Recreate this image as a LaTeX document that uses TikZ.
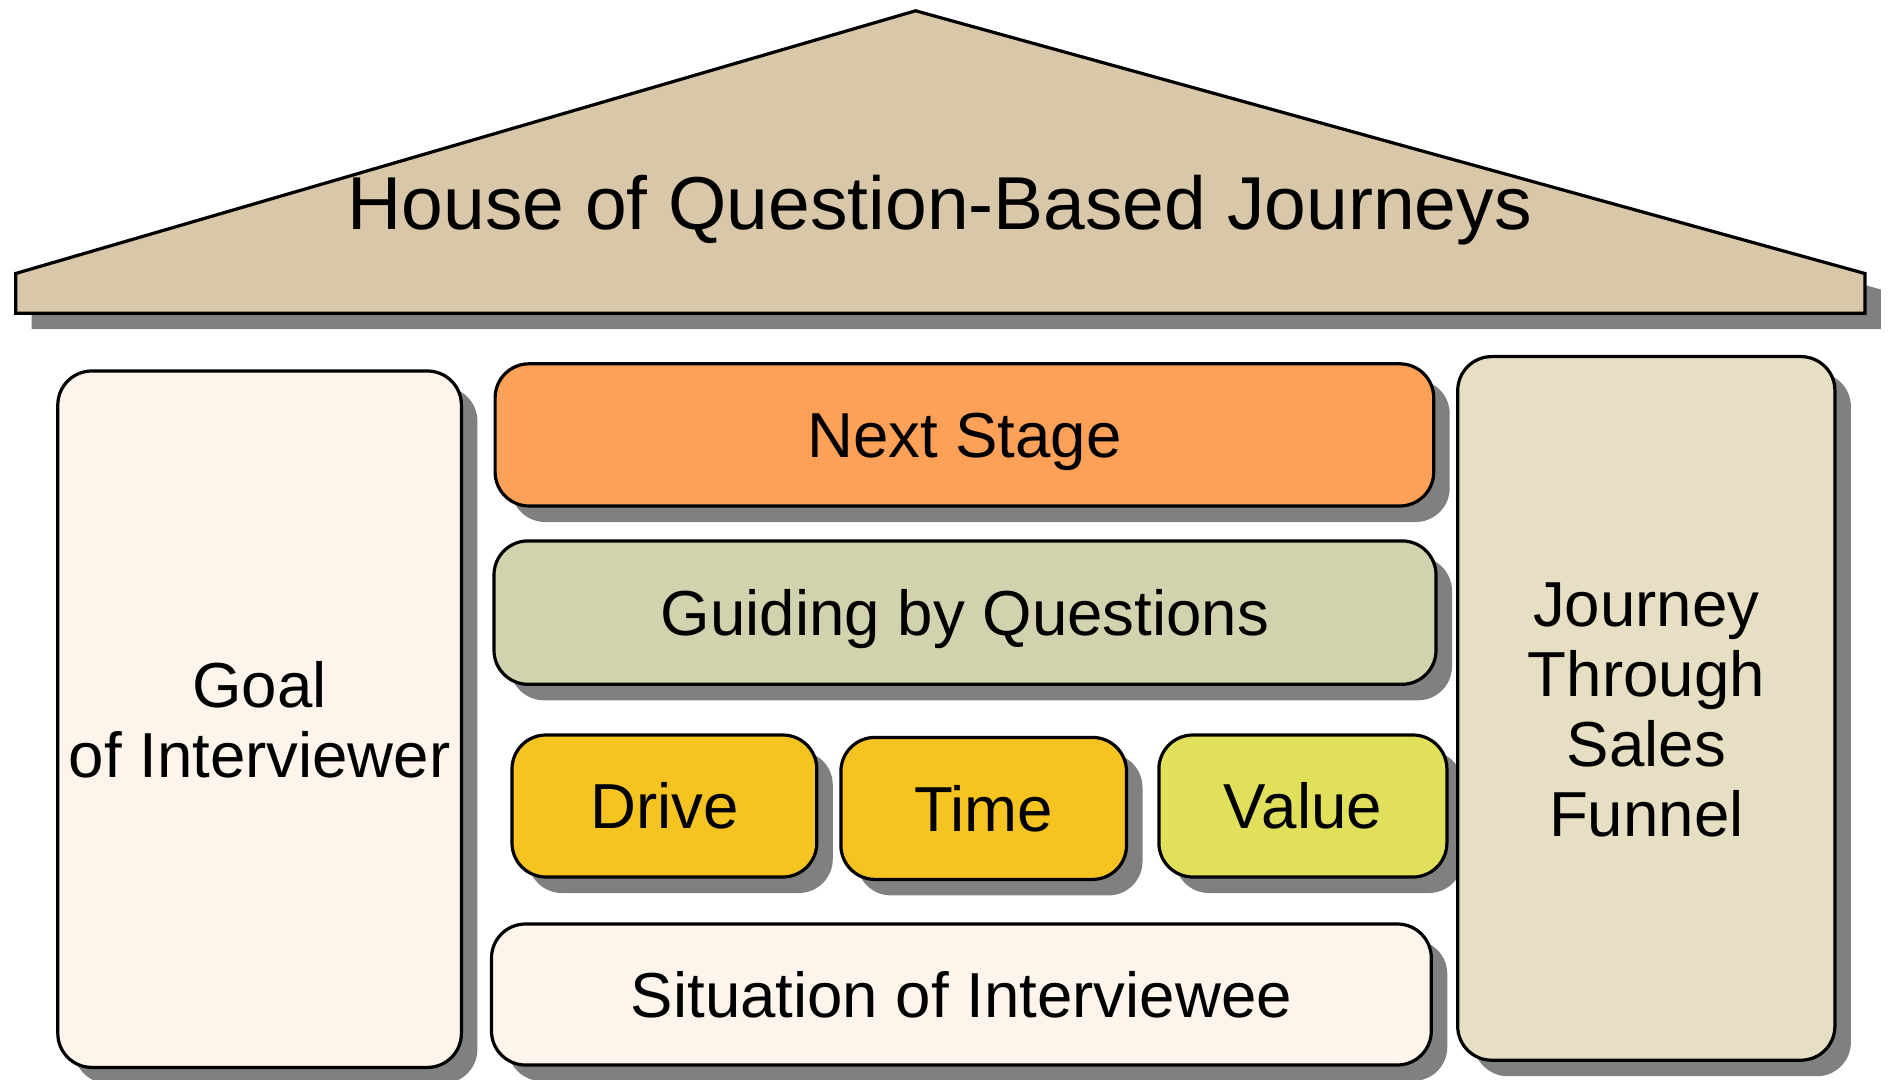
\documentclass[tikz,border=0pt]{standalone}
\usepackage{fontspec}
\setmainfont{Liberation Sans}
\usepackage{tikz}
\usetikzlibrary{shadows}
\definecolor{roofcol}{RGB}{216,199,169}
\definecolor{nextcol}{RGB}{253,160,88}
\definecolor{guidecol}{RGB}{210,210,174}
\definecolor{drivecol}{RGB}{245,196,33}
\definecolor{valuecol}{RGB}{225,224,90}
\definecolor{palecol}{RGB}{253,244,236}
\definecolor{journeycol}{RGB}{230,223,195}
\definecolor{shadowcol}{RGB}{128,128,128}

\begin{document}
\begin{tikzpicture}[x=0.5pt, y=-0.5pt, line width=1.6pt,
    boxshadow/.style = {drop shadow={shadow xshift=8pt, shadow yshift=-8pt, fill=shadowcol, opacity=1}},
    block/.style = {draw, rounded corners=17pt, boxshadow, inner sep=0pt, align=center,
                    font=\fontsize{31.8}{35}\selectfont, text height=22.8pt, text depth=0pt}]

    \useasboundingbox (0,0) rectangle (1889,1080);

    \path[draw, fill=roofcol, boxshadow] (15.7,273.5) -- (915.6,10.8) -- (1864.9,273.5)
        -- (1864.9,313.2) -- (15.7,313.2) -- cycle;
    \node [inner sep=0pt, font=\fontsize{37.5}{40}\selectfont, text height=26.9pt, text depth=0pt]
        (title) at (939.7,203) {House of Question-Based Journeys};

    \node [block, fill=palecol, minimum width=201.8pt, minimum height=348.2pt, text height=57.8pt] (goal) at (259.6,719.2) {Goal\\of Interviewer};
    \node [block, fill=nextcol, minimum width=469.3pt, minimum height=71.1pt] (next) at (964.4,434.9) {Next Stage};
    \node [block, fill=guidecol, minimum width=471pt, minimum height=71.7pt] (guide) at (965,612.6) {Guiding by Questions};
    \node [block, fill=drivecol, minimum width=152.4pt, minimum height=71pt] (drive) at (664.4,806) {Drive};
    \node [block, fill=drivecol, minimum width=142.8pt, minimum height=71pt] (time) at (983.7,808.4) {Time};
    \node [block, fill=valuecol, minimum width=144pt, minimum height=71pt] (value) at (1302.9,806) {Value};
    \node [block, fill=palecol, minimum width=469.9pt, minimum height=70.5pt] (situation) at (961.4,994.5) {Situation of Interviewee};
    \node [block, fill=journeycol, minimum width=188.6pt, minimum height=351.8pt, text height=127.8pt] (journey) at (1646.3,708.4) {Journey\\Through\\Sales\\Funnel};

\end{tikzpicture}
\end{document}
